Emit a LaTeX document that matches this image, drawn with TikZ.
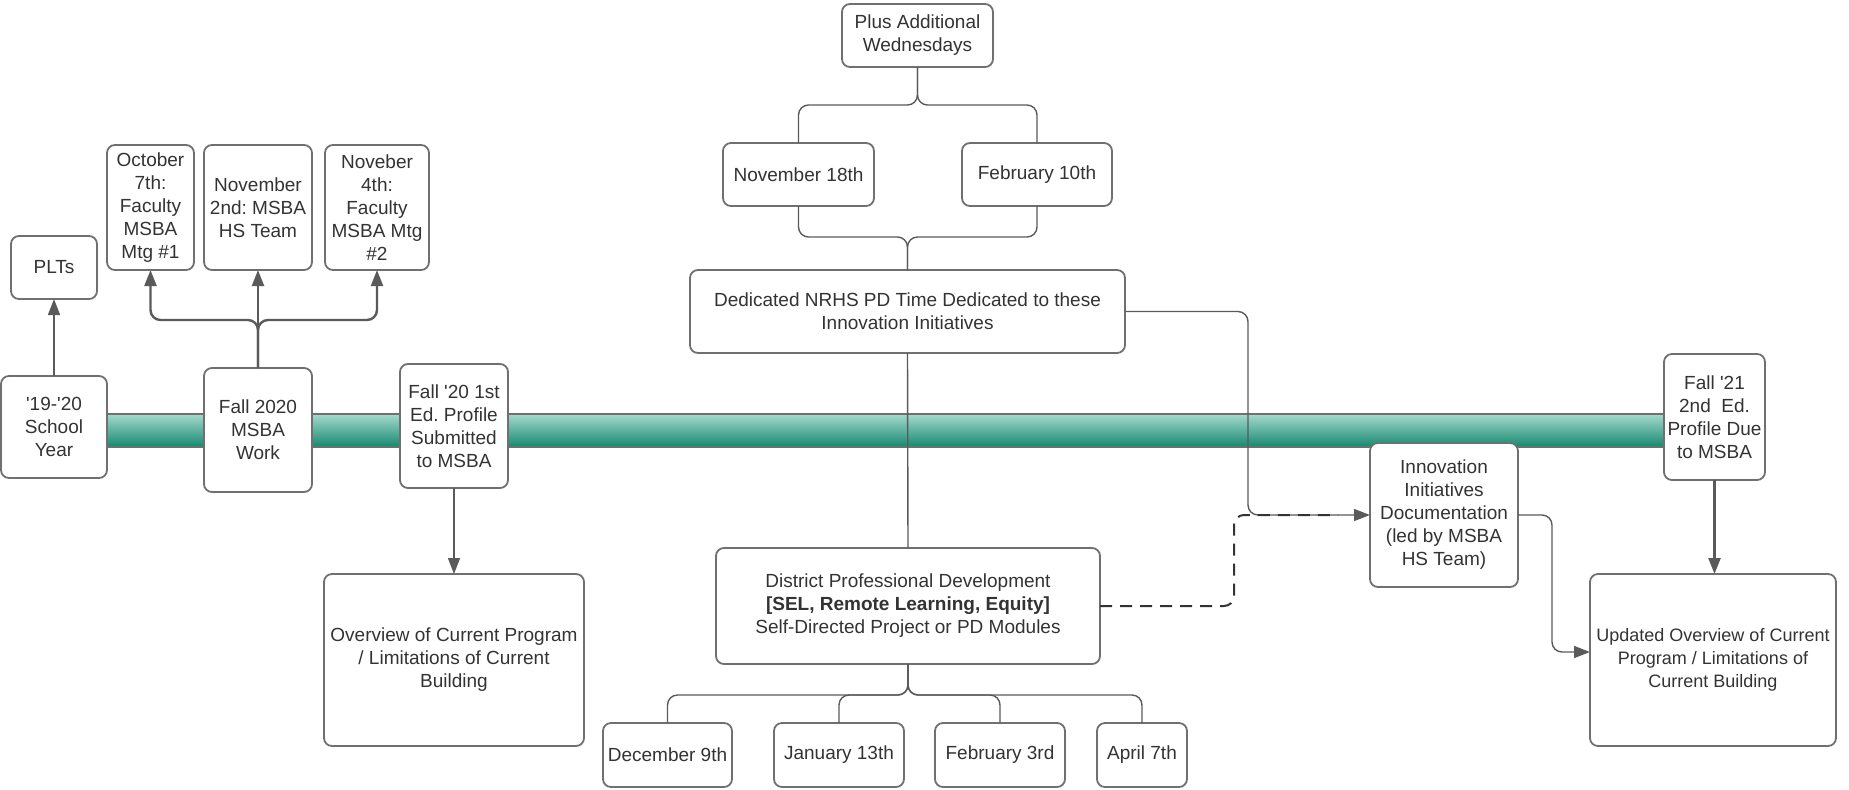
\documentclass[tikz,border=0pt]{standalone}
\usepackage{fontspec}
\setmainfont{Liberation Sans}
\usetikzlibrary{arrows.meta}
\definecolor{boxline}{HTML}{707070}
\definecolor{conn}{HTML}{5A5A5A}
\definecolor{txt}{HTML}{333333}
\definecolor{bandtop}{HTML}{A2DACE}
\definecolor{bandmid}{HTML}{74C3B1}
\definecolor{bandbot}{HTML}{16886F}
\newcommand\bx[6]{\node[box, minimum width={(#4-#2)*0.5pt}, minimum height={(#5-#3)*0.5pt}] (#1) at ({(#2+#4)/2},{(#3+#5)/2}) {#6};}
\frenchspacing
\begin{document}
\begin{tikzpicture}[x=0.5pt,y=-0.5pt,
  box/.style={draw=boxline, line width=0.9pt, fill=white, rounded corners=4pt, inner sep=0pt, outer sep=0pt, align=center, text=txt, font=\fontsize{9.5}{11.5}\selectfont},
  link/.style={draw=conn, line width=0.7pt, rounded corners=5pt},
  thick link/.style={draw=conn, line width=1.2pt, rounded corners=5pt},
  tip/.style={-{Triangle[length=8pt,width=6pt]}},
  dashlink/.style={draw=txt, line width=1pt, dash pattern=on 6pt off 4pt, rounded corners=5pt}]
\useasboundingbox (0,0) rectangle (1849,789);
% timeline band
\shade[top color=bandtop, middle color=bandmid, bottom color=bandbot] (60,414) rectangle (1700,447);
\draw[boxline, line width=0.6pt] (60,414) -- (1700,414) (60,447) -- (1700,447);
% boxes
\bx{plt}{11}{236}{97}{299}{PLTs}
\bx{oct}{107}{145}{194}{270}{October\\7th:\\Faculty\\MSBA\\Mtg \#1}
\bx{nov2}{204}{145}{312}{270}{November\\2nd: MSBA\\HS Team}
\bx{nov4}{325}{145}{429}{270}{Noveber\\4th:\\Faculty\\MSBA Mtg\\\#2}
\bx{sy}{1}{376}{107}{478}{\textquotesingle 19-\textquotesingle 20\\School\\Year}
\bx{f2020}{204}{368}{312}{492}{Fall 2020\\MSBA\\Work}
\bx{f20}{400}{364}{508}{488}{Fall \textquotesingle 20 1st\\Ed. Profile\\Submitted\\to MSBA}
\bx{ovw}{324}{574}{584}{746}{Overview of Current Program\\/ Limitations of Current\\Building}
\bx{plus}{842}{4}{993}{67}{Plus Additional\\Wednesdays}
\bx{n18}{723}{143}{874}{206}{November 18th}
\bx{f10}{962}{143}{1112}{206}{February 10th}
\bx{ded}{690}{270}{1125}{353}{Dedicated NRHS PD Time Dedicated to these\\Innovation Initiatives}
\bx{dist}{716}{548}{1100}{664}{District Professional Development\\\textbf{[SEL, Remote Learning, Equity]}\\Self-Directed Project or PD Modules}
\bx{dec}{603}{723}{732}{787}{December 9th}
\bx{jan}{774}{723}{904}{787}{January 13th}
\bx{feb}{935}{723}{1065}{787}{February 3rd}
\bx{apr}{1097}{723}{1187}{787}{April 7th}
\bx{inn}{1370}{443}{1518}{587}{Innovation\\Initiatives\\Documentation\\(led by MSBA\\HS Team)}
\bx{f21}{1664}{354}{1765}{480}{Fall \textquotesingle 21\\2nd~ Ed.\\Profile Due\\to MSBA}
\node[box, font=\fontsize{9}{11.5}\selectfont, minimum width={246*0.5pt}, minimum height={172*0.5pt}] (upd) at (1713,660) {Updated Overview of Current\\Program / Limitations of\\Current Building};
% connectors
\coordinate (cs) at (1248,515);
\coordinate (cd) at (1234,515);
\draw[link, tip] (sy.north) -- (plt.south);
\draw[thick link, tip] (f2020.north) -- ++(0,-48) -| (oct.south);
\draw[thick link, tip] (f2020.north) -- ++(0,-48) -| (nov4.south);
\draw[thick link, tip] (f2020.north) -- (nov2.south);
\draw[link, tip] (f20.south) -- (f20.south |- ovw.north);
\draw[link] (plus.south) -- ++(0,38) -| (n18.north);
\draw[link] (plus.south) -- ++(0,38) -| (f10.north);
\draw[link] (n18.south) -- ++(0,31) -| (ded.north);
\draw[link] (f10.south) -- ++(0,31) -| (ded.north);
\draw[link] (ded.south) -- (dist.north);
\foreach \b in {dec,jan,feb,apr}{\draw[link] (dist.south) -- ++(0,31) -| (\b.north);}
\draw[link, tip] (ded.east) -| (cs) -- (inn.west);
\draw[dashlink] (dist.east) -| (cd) -- ([xshift=-16]inn.west);
\draw[link, tip] (inn.east) -- ++(34,0) |- ([yshift=4]upd.west);
\draw[thick link, tip] (f21.south) -- (f21.south |- upd.north);
\end{tikzpicture}
\end{document}
